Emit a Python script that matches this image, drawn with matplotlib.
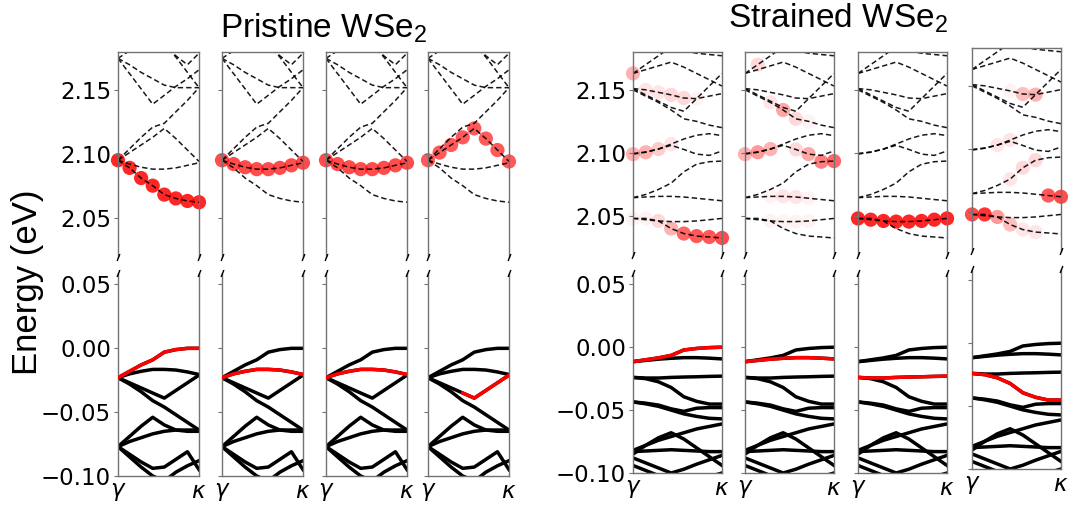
import numpy as np
import matplotlib
matplotlib.use("Agg")
import matplotlib.pyplot as plt

plt.rcParams['mathtext.fontset'] = 'custom'
plt.rcParams['mathtext.rm'] = 'Liberation Sans'
plt.rcParams['mathtext.it'] = 'DejaVu Sans:italic'
plt.rcParams['mathtext.bf'] = 'DejaVu Sans:bold'

# k path gamma -> kappa, 8 points
k = np.linspace(0, 1, 8)

# ---- pristine conduction bands (eV)
pc_a = [2.095, 2.089, 2.081, 2.075, 2.068, 2.065, 2.063, 2.062]
pc_b = [2.095, 2.092, 2.0895, 2.088, 2.088, 2.089, 2.091, 2.093]
pc_c = [2.095, 2.101, 2.107, 2.113, 2.120, 2.112, 2.103, 2.094]
pc_d = [2.095, 2.104, 2.113, 2.121, 2.124, 2.133, 2.142, 2.152]
pc_e = [2.175, 2.170, 2.164, 2.159, 2.154, 2.152, 2.152, 2.152]
pc_f = [2.175, 2.163, 2.151, 2.139, 2.146, 2.153, 2.159, 2.166]
pc_g = [2.200, 2.200, 2.200, 2.195, 2.186, 2.176, 2.164, 2.152]
pc_h = [2.200, 2.200, 2.200, 2.195, 2.186, 2.177, 2.170, 2.179]
pc_i = [2.175, 2.181, 2.187, 2.193, 2.199, 2.205, 2.210, 2.215]

# ---- pristine valence bands (eV)
pv_1 = [-0.023, -0.018, -0.013, -0.009, -0.003, -0.001, 0.0, 0.0]
pv_2 = [-0.023, -0.020, -0.018, -0.0165, -0.0165, -0.017, -0.0185, -0.0205]
pv_3 = [-0.023, -0.027, -0.031, -0.035, -0.039, -0.033, -0.027, -0.021]
pv_4 = [-0.023, -0.028, -0.034, -0.041, -0.046, -0.052, -0.058, -0.064]
pv_5 = [-0.077, -0.069, -0.061, -0.054, -0.060, -0.064, -0.064, -0.064]
pv_6 = [-0.077, -0.073, -0.070, -0.067, -0.065, -0.064, -0.065, -0.065]
pv_7 = [-0.077, -0.083, -0.089, -0.094, -0.093, -0.087, -0.081, -0.095]
pv_8 = [-0.120, -0.118, -0.115, -0.110, -0.104, -0.097, -0.092, -0.088]
pv_9 = [-0.077, -0.085, -0.093, -0.100, -0.104, -0.107, -0.108, -0.110]

# ---- strained conduction bands (eV)
sc_1 = [2.048, 2.048, 2.046, 2.040, 2.036, 2.034, 2.0333, 2.0325]
sc_2 = [2.048, 2.047, 2.046, 2.0455, 2.0455, 2.046, 2.047, 2.048]
sc_3 = [2.0645, 2.065, 2.0655, 2.0655, 2.065, 2.064, 2.063, 2.062]
sc_4 = [2.0645, 2.067, 2.071, 2.076, 2.085, 2.091, 2.093, 2.0935]
sc_5 = [2.099, 2.1005, 2.103, 2.107, 2.111, 2.114, 2.1152, 2.1137]
sc_6 = [2.0995, 2.1007, 2.103, 2.106, 2.1027, 2.099, 2.098, 2.1015]
sc_7 = [2.151, 2.150, 2.148, 2.146, 2.1435, 2.143, 2.145, 2.147]
sc_8 = [2.151, 2.146, 2.141, 2.136, 2.133, 2.143, 2.153, 2.163]
sc_9 = [2.150, 2.145, 2.140, 2.134, 2.127, 2.125, 2.122, 2.120]
sc_10 = [2.163, 2.166, 2.169, 2.172, 2.168, 2.163, 2.158, 2.153]
sc_11 = [2.163, 2.170, 2.177, 2.184, 2.191, 2.198, 2.200, 2.200]
sc_12 = [2.200, 2.200, 2.190, 2.185, 2.181, 2.179, 2.178, 2.177]

# ---- strained valence bands (eV)
sv_1 = [-0.0115, -0.010, -0.0085, -0.0065, -0.0022, -0.001, -0.0003, 0.0]
sv_2 = [-0.0115, -0.0105, -0.0095, -0.0088, -0.0083, -0.0083, -0.0087, -0.0093]
sv_3 = [-0.024, -0.0245, -0.0245, -0.024, -0.0237, -0.0235, -0.0232, -0.023]
sv_4 = [-0.024, -0.025, -0.0275, -0.032, -0.0394, -0.043, -0.0452, -0.0452]
sv_5 = [-0.0435, -0.0445, -0.046, -0.049, -0.051, -0.0485, -0.048, -0.048]
sv_6 = [-0.0435, -0.045, -0.047, -0.050, -0.053, -0.055, -0.0565, -0.057]
sv_7 = [-0.082, -0.078, -0.074, -0.071, -0.068, -0.065, -0.063, -0.061]
sv_8 = [-0.085, -0.078, -0.072, -0.068, -0.073, -0.080, -0.087, -0.094]
sv_9 = [-0.083, -0.0825, -0.082, -0.0815, -0.082, -0.0825, -0.083, -0.083]
sv_10 = [-0.088, -0.092, -0.096, -0.100, -0.097, -0.093, -0.0895, -0.086]
sv_11 = [-0.094, -0.098, -0.102, -0.106, -0.108, -0.106, -0.103, -0.100]

pristine_cb = [pc_a, pc_b, pc_c, pc_d, pc_e, pc_f, pc_g, pc_h, pc_i]
pristine_vb = [pv_1, pv_2, pv_3, pv_4, pv_5, pv_6, pv_7, pv_8, pv_9]
strained_cb = [sc_1, sc_2, sc_3, sc_4, sc_5, sc_6, sc_7, sc_8, sc_9, sc_10, sc_11, sc_12]
strained_vb = [sv_1, sv_2, sv_3, sv_4, sv_5, sv_6, sv_7, sv_8, sv_9, sv_10, sv_11]

# projected weight (circle opacity) per band, one dict per panel
dots = [
    {0: [.85, .85, .85, .85, .85, .85, .85, .85]},
    {1: [.7, .7, .7, .7, .7, .7, .7, .7]},
    {1: [.7, .7, .7, .7, .7, .7, .7, .7]},
    {2: [.65, .65, .65, .65, .65, .65, .65, .65]},
    {0: [.05, .05, .15, .3, .6, .65, .65, .7],
     4: [.3, .3, .2, .1, 0, 0, 0, 0],
     6: [0, .1, .1, .15, .15, .05, 0, 0],
     9: [.3, 0, 0, 0, 0, 0, 0, 0]},
    {10: [0, .15, 0, 0, 0, 0, 0, 0],
     8: [0, 0, .1, .35, .15, .05, 0, 0],
     4: [.3, .4, .3, 0, 0, 0, 0, 0],
     5: [0, 0, 0, 0, .15, .35, 0, 0],
     3: [0, 0, 0, 0, 0, 0, .5, .6],
     2: [0, 0, .05, .1, .1, .05, 0, 0],
     1: [0, 0, .05, .05, .05, .05, 0, 0]},
    {1: [.85, .85, .85, .85, .85, .85, .85, .85]},
    {0: [.7, .8, .4, .25, .1, .1, 0, 0],
     2: [0, 0, 0, 0, 0, 0, .65, .7],
     3: [0, 0, 0, .1, .15, .15, 0, 0],
     4: [0, 0, .1, .1, 0, 0, 0, 0],
     6: [0, 0, 0, .05, .25, .3, 0, 0]},
]
# highlighted valence band per panel: (band index, first k index)
red_vb = [(0, 0), (1, 0), (1, 0), (2, 3), (0, 0), (1, 0), (2, 0), (3, 0)]

W, H = 1068, 514
fig = plt.figure(figsize=(W / 100, H / 100), dpi=100)

# column layout in pixels: left, width, vertical shift
lefts = [118, 222, 326, 428, 633, 745, 858, 972]
widths = [81, 81, 81, 81, 89, 89, 89, 89]
shifts = [0, 0, 0, 0, 0, 0, 0, -4]


def add_px(left, top, w, h):
    return fig.add_axes([left / W, 1 - (top + h) / H, w / W, h / H])


def breaks(ax, y):
    ax.plot([0, 1], [y, y], transform=ax.transAxes, ls='none',
            marker=[(-0.4, -1), (0.4, 1)], ms=5, mew=1, mec='k',
            clip_on=False, zorder=5)


for i in range(8):
    strained = i >= 4
    cb = strained_cb if strained else pristine_cb
    vb = strained_vb if strained else pristine_vb
    ht = 203 if strained else 205
    hb = 200 if strained else 203
    s = shifts[i]
    axt = add_px(lefts[i], 52 + s, widths[i], ht)
    axb = add_px(lefts[i], 273 + s, widths[i], hb)

    for band in cb:
        axt.plot(k, band, color='k', lw=1.1, ls=(0, (3.5, 2)), alpha=0.9, zorder=2)
    for b, w in dots[i].items():
        cols = [(1, 0, 0, a) for a in w]
        axt.scatter(k, cb[b], s=105, c=cols, edgecolors='none', zorder=1, clip_on=False)

    for band in vb:
        axb.plot(k, band, color='k', lw=2.5, zorder=2)
    rb, start = red_vb[i]
    axb.plot(k[start:], vb[rb][start:], color='red', lw=2.5, zorder=3)

    axt.set_xlim(0, 1)
    axb.set_xlim(0, 1)
    axt.set_ylim(2.019, 2.18)
    axb.set_ylim(-0.10, 0.059)
    axt.set_yticks([2.05, 2.10, 2.15])
    axb.set_yticks([-0.10, -0.05, 0.00, 0.05])
    axt.set_xticks([])
    axb.set_xticks([0, 1])
    axb.set_xticklabels([r'$\gamma$', r'$\kappa$'])

    axt.spines['bottom'].set_visible(False)
    axb.spines['top'].set_visible(False)
    for ax in (axt, axb):
        for sp in ax.spines.values():
            sp.set_color('0.45')
            sp.set_linewidth(1.0)
        ax.tick_params(axis='y', length=3, width=0.8, color='0.45', pad=2,
                       labelsize=16.5, labelleft=(i in (0, 4)))
        ax.tick_params(axis='x', length=0, pad=3, labelsize=16.5)
    breaks(axt, 0)
    breaks(axb, 1)

fig.text(0.026, 0.45, 'Energy (eV)', rotation=90, ha='center', va='center',
         fontsize=25, family='Liberation Sans')
fig.text(323 / W, 1 - 37 / H, r'Pristine WSe$_2$', ha='center', va='baseline',
         fontsize=24, family='Liberation Sans')
fig.text(838 / W, 1 - 27 / H, r'Strained WSe$_2$', ha='center', va='baseline',
         fontsize=24, family='Liberation Sans')

fig.savefig('out.png', dpi=100)
